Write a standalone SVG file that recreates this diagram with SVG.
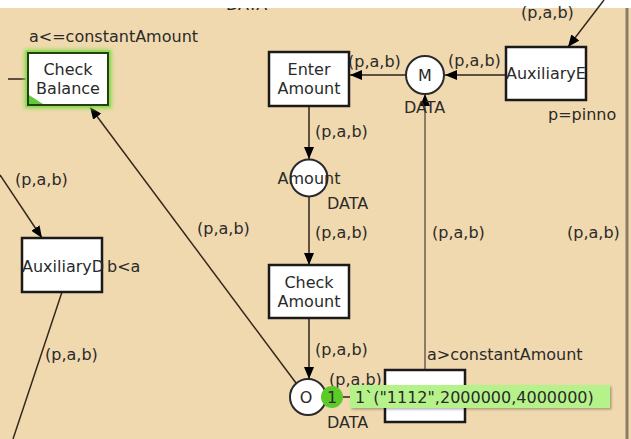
<svg xmlns="http://www.w3.org/2000/svg" width="631" height="439" viewBox="0 0 631 439">
<defs>
<style>
text{font-family:"DejaVu Sans","Verdana",sans-serif;font-size:16px;fill:#2a2a2a}
.c{text-anchor:middle}
.tr{fill:#fff;stroke:#1a1a1a;stroke-width:2.5}
.pl{fill:#fff;stroke:#2a2a2a;stroke-width:2}
.arc{fill:none;stroke:#5e5040;stroke-width:2}
.arcd{fill:none;stroke:#35291d;stroke-width:1.5}
.arcl{fill:none;stroke:#8a7c68;stroke-width:2}
</style>
<marker id="ah" viewBox="0 0 12 10" refX="12" refY="5" markerWidth="12" markerHeight="10" markerUnits="userSpaceOnUse" orient="auto">
<path d="M0,0 L12,5 L0,10 Z" fill="#000"/>
</marker>
<filter id="glow" x="-20%" y="-20%" width="140%" height="140%">
<feGaussianBlur stdDeviation="2"/>
</filter>
<filter id="sh" x="-5%" y="-20%" width="110%" height="160%">
<feDropShadow dx="1.5" dy="1.5" stdDeviation="1" flood-color="#000" flood-opacity="0.3"/>
</filter>
</defs>
<rect x="0" y="0" width="631" height="439" fill="#F1D9AF"/>
<text x="226" y="10">DATA</text>
<rect x="0" y="0" width="631" height="8" fill="#fff"/>
<line x1="627" y1="8" x2="627" y2="439" stroke="#8a7c68" stroke-width="3"/>

<g id="connectors">
<line class="arc" x1="8" y1="79" x2="28" y2="79"/>
<line class="arc" x1="406" y1="75" x2="350" y2="75" marker-end="url(#ah)"/>
<line class="arc" x1="506" y1="75" x2="445" y2="75" marker-end="url(#ah)"/>
<line class="arcd" x1="604" y1="0" x2="568" y2="47" marker-end="url(#ah)"/>
<line class="arc" x1="309" y1="106" x2="309" y2="159" marker-end="url(#ah)"/>
<line class="arc" x1="309" y1="197" x2="309" y2="265" marker-end="url(#ah)"/>
<line class="arc" x1="309" y1="318" x2="309" y2="379" marker-end="url(#ah)"/>
<line class="arcl" x1="425" y1="370" x2="425" y2="94" marker-end="url(#ah)"/>
<line class="arcd" x1="296" y1="383" x2="90" y2="107" marker-end="url(#ah)"/>
<line class="arcd" x1="0" y1="175" x2="42" y2="238" marker-end="url(#ah)"/>
<line class="arcd" x1="62" y1="292" x2="13" y2="439"/>
<line class="arc" x1="326" y1="397" x2="385" y2="397" marker-end="url(#ah)"/>
</g>

<g id="arc-labels">
<text x="521" y="18">(p,a,b)</text>
<text x="348" y="67">(p,a,b)</text>
<text x="448" y="66">(p,a,b)</text>
<text x="315" y="137">(p,a,b)</text>
<text x="315" y="238">(p,a,b)</text>
<text x="315" y="355">(p,a,b)</text>
<text x="432" y="238">(p,a,b)</text>
<text x="567" y="238">(p,a,b)</text>
<text x="197" y="234">(p,a,b)</text>
<text x="15" y="185">(p,a,b)</text>
<text x="45" y="360">(p,a,b)</text>
<text x="329" y="385">(p,a,b)</text>
</g>

<g id="check-balance">
<rect x="28" y="53" width="80" height="52" fill="none" stroke="#8fdc55" stroke-width="7" filter="url(#glow)"/>
<rect x="28" y="53" width="80" height="52" fill="#fff" stroke="#8fd85a" stroke-width="5"/>
<rect x="28" y="53" width="80" height="52" fill="#fff" stroke="#26400f" stroke-width="2"/>
<path d="M29,95 L29,104 L43,104 Z" fill="#63c83a"/>
<text class="c" x="68" y="75">Check</text>
<text class="c" x="68" y="94">Balance</text>
<text x="29" y="42">a&lt;=constantAmount</text>
</g>

<g id="enter-amount">
<rect class="tr" x="269" y="52" width="80" height="54"/>
<text class="c" x="309" y="75">Enter</text>
<text class="c" x="309" y="94">Amount</text>
</g>

<g id="M">
<circle class="pl" cx="425" cy="75" r="19"/>
<text class="c" x="425" y="81">M</text>
<text x="404" y="113">DATA</text>
</g>

<g id="auxiliaryE">
<rect class="tr" x="506" y="47" width="80" height="53"/>
<text x="506" y="79">AuxiliaryE</text>
<text x="548" y="120">p=pinno</text>
</g>

<g id="amount">
<circle class="pl" cx="309" cy="178" r="18.5"/>
<text class="c" x="309" y="184">Amount</text>
<text x="327" y="209">DATA</text>
</g>

<g id="check-amount">
<rect class="tr" x="269" y="265" width="80" height="53"/>
<text class="c" x="309" y="288">Check</text>
<text class="c" x="309" y="307">Amount</text>
</g>

<g id="auxiliaryD">
<rect class="tr" x="22" y="238" width="80" height="54"/>
<text x="22" y="272">AuxiliaryD</text>
<text x="107" y="272">b&lt;a</text>
</g>

<g id="bottom-transition">
<rect class="tr" x="385" y="370" width="80" height="52"/>
<text x="427" y="360">a&gt;constantAmount</text>
</g>

<g id="O">
<circle class="pl" cx="308" cy="397" r="18"/>
<text class="c" x="306" y="403">O</text>
<text x="327" y="428">DATA</text>
<line x1="343" y1="397" x2="352" y2="397" stroke="#5e5040" stroke-width="1.5"/>
<circle cx="332" cy="397" r="11" fill="#5ccb2a"/>
<text class="c" x="332" y="403">1</text>
<rect x="350" y="385" width="260" height="23" fill="#b6f28a" filter="url(#sh)"/>
<text x="355" y="403">1`("1112",2000000,4000000)</text>
</g>
</svg>
